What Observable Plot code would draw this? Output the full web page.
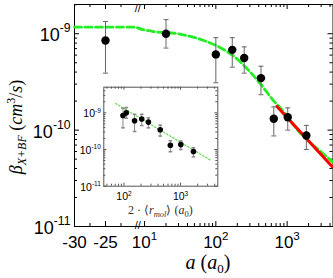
<!DOCTYPE html>
<html><head><meta charset="utf-8">
<script src="https://cdn.jsdelivr.net/npm/d3@7"></script>
<script src="https://cdn.jsdelivr.net/npm/@observablehq/plot@0.6"></script>
<style>
body{margin:0;background:#fff}
#wrap{position:relative;width:333px;height:278px;overflow:hidden}
#main{position:absolute;left:0;top:0}
#inset{position:absolute;left:76px;top:80px}
</style></head><body><div id="wrap"><div id="main"></div><div id="inset"></div></div>
<script>
// ---- main panel data: scattering length a (a0) vs rate coefficient ----
const aVals   = [-25, 20, 100, 170, 250, 430, 650, 1020, 1860];
const beta    = [8.5e-10, 1.0e-9, 6.1e-10, 6.8e-10, 5.6e-10, 3.46e-10, 1.31e-10, 1.36e-10, 8.8e-11];
const betaHi  = [1.34e-9, 1.4e-9, 9.1e-10, 9.1e-10, 7.3e-10, 4.6e-10, 1.74e-10, 1.7e-10, 1.12e-10];
const betaLo  = [3.9e-10, 7.1e-10, 3.1e-10, 4.5e-10, 3.9e-10, 2.33e-10, 8.7e-11, 1.0e-10, 6.3e-11];
// green dashed model curve
const curveA  = [-30, -20, 8, 12.8, 28.7, 67.7, 136, 209, 289, 421, 614, 943, 1303, 3428, 4300];
const curveB  = [1.17e-9, 1.17e-9, 1.15e-9, 1.06e-9, 1.0e-9, 8.5e-10, 6.7e-10, 5.3e-10, 4.16e-10, 3.03e-10, 2.11e-10, 1.48e-10, 1.07e-10, 5.45e-11, 4.7e-11];
// red power-law line
const fitA    = [721, 4270];
const fitB    = [1.76e-10, 4.19e-11];
// ---- inset data: 2<r_mol> (a0) ----
const rMol    = [96, 110, 154, 206, 270, 437, 660, 1010, 1690];
const insetLineR = [71, 3400];
const insetLineB = [1.8e-9, 5.1e-11];
// ---- ticks ----
const xMajor = [-30, -25, 10, 100, 1000];
const xMajorLabels = ["-30", "-25", "10^1", "10^2", "10^3"];
const yMajor = [1e-11, 1e-10, 1e-9];
const yMajorLabels = ["10^-11", "10^-10", "10^-9"];
const insetXMajor = [100, 1000];
const insetXLabels = ["10^2", "10^3"];
const insetYMajor = [1e-11, 1e-10, 1e-9];
const insetYLabels = ["10^-11", "10^-10", "10^-9"];

function minorLog(lo, hi) {
  const out = [];
  for (let e = Math.floor(Math.log10(lo)); e <= Math.ceil(Math.log10(hi)); e++)
    for (let m = 2; m <= 9; m++) { const v = m * Math.pow(10, e); if (v > lo && v < hi) out.push(v); }
  return out;
}
const xMinor = [-27.5, -22.5, ...minorLog(10, 4300)];
const yMinor = minorLog(1e-11, 2.01e-9);
const insetXMinor = minorLog(44, 4550);
const insetYMinor = minorLog(1e-11, 5e-9);

// broken axis: linear part for negative a, log part for positive a
const decadeUnits = 11.5, logOrigin = -30.2, breakAt = -19.8;
const u = a => a < 0 ? a : logOrigin + decadeUnits * Math.log10(a);

const rows = aVals.map((a, i) => ({a, b: beta[i], lo: betaLo[i], hi: betaHi[i], r: rMol[i]}));
const curve = curveA.map((a, i) => ({a, b: curveB[i]}));
const fit = fitA.map((a, i) => ({a, b: fitB[i]}));
const insetLine = insetLineR.map((r, i) => ({r, b: insetLineB[i]}));

const cap = {draw(ctx, size) { const w = Math.sqrt(size / Math.PI); ctx.moveTo(-w, 0); ctx.lineTo(w, 0); }};

const W = 333, H = 278, mL = 74, mR = 0.5, mT = 4, mB = 52;
const iw = W - mL - mR, ih = H - mT - mB;
const sans = "Liberation Sans, Arial, sans-serif";
const serif = "Liberation Serif, Times New Roman, serif";

const main = Plot.plot({
  width: W, height: H, marginLeft: mL, marginRight: mR, marginTop: mT, marginBottom: mB,
  style: {background: "transparent", overflow: "visible"},
  x: {type: "linear", domain: [-30, 11.7], axis: null},
  y: {type: "log", domain: [1e-11, 2.01e-9], axis: null},
  marks: [
    Plot.tickX(xMajor, {x: u, insetTop: ih - 5, stroke: "black"}),
    Plot.tickX(xMajor, {x: u, insetBottom: ih - 5, stroke: "black"}),
    Plot.tickX(xMinor, {x: u, insetTop: ih - 3, stroke: "black"}),
    Plot.tickX(xMinor, {x: u, insetBottom: ih - 3, stroke: "black"}),
    Plot.tickY(yMajor, {y: d => d, insetRight: iw - 5, stroke: "black"}),
    Plot.tickY(yMajor, {y: d => d, insetLeft: iw - 5, stroke: "black"}),
    Plot.tickY(yMinor, {y: d => d, insetRight: iw - 3, stroke: "black"}),
    Plot.tickY(yMinor, {y: d => d, insetLeft: iw - 3, stroke: "black"}),
    Plot.frame({stroke: "black", strokeWidth: 1}),
    Plot.text(["//"], {x: breakAt, frameAnchor: "bottom", dy: 2, text: d => d, fontSize: 11, fontFamily: sans, fill: "black"}),
    Plot.text(["//"], {x: breakAt, frameAnchor: "top", text: d => d, fontSize: 11, fontFamily: sans, fill: "black"}),
    Plot.text(xMajor, {x: u, text: (d, i) => xMajorLabels[i], frameAnchor: "bottom", dy: 21.5, fontSize: 17, fontFamily: sans, fill: "black"}),
    Plot.text(yMajor, {y: d => d, text: (d, i) => yMajorLabels[i], frameAnchor: "left", dx: -4, dy: 2, textAnchor: "end", fontSize: 18, fontFamily: sans, fill: "black"}),
    Plot.line(curve, {x: d => u(d.a), y: "b", stroke: "#22ee22", strokeWidth: 2.8, strokeDasharray: "7,3.5", curve: "monotone-x"}),
    Plot.line(fit, {x: d => u(d.a), y: "b", stroke: "#ff0000", strokeWidth: 3}),
    Plot.ruleX(rows, {x: d => u(d.a), y1: "lo", y2: "hi", stroke: "#666", strokeWidth: 1}),
    Plot.dot(rows, {x: d => u(d.a), y: "hi", symbol: cap, r: 2.5, stroke: "#666", fill: "none", strokeWidth: 1}),
    Plot.dot(rows, {x: d => u(d.a), y: "lo", symbol: cap, r: 2.5, stroke: "#666", fill: "none", strokeWidth: 1}),
    Plot.dot(rows, {x: d => u(d.a), y: "b", r: 4.2, fill: "black", stroke: "none"})
  ]
});

const inset = Plot.plot({
  width: 150, height: 140, marginLeft: 27.3, marginRight: 8.7, marginTop: 6.7, marginBottom: 34.3,
  style: {background: "transparent", overflow: "visible"},
  x: {type: "log", domain: [44, 4550], axis: null},
  y: {type: "log", domain: [1e-11, 5e-9], axis: null},
  marks: [
    Plot.tickX(insetXMajor, {x: d => d, insetTop: 99 - 3, stroke: "#555"}),
    Plot.tickX(insetXMajor, {x: d => d, insetBottom: 99 - 3, stroke: "#555"}),
    Plot.tickX(insetXMinor, {x: d => d, insetTop: 99 - 2, stroke: "#555"}),
    Plot.tickX(insetXMinor, {x: d => d, insetBottom: 99 - 2, stroke: "#555"}),
    Plot.tickY(insetYMajor, {y: d => d, insetRight: 114 - 3, stroke: "#555"}),
    Plot.tickY(insetYMajor, {y: d => d, insetLeft: 114 - 3, stroke: "#555"}),
    Plot.tickY(insetYMinor, {y: d => d, insetRight: 114 - 2, stroke: "#555"}),
    Plot.tickY(insetYMinor, {y: d => d, insetLeft: 114 - 2, stroke: "#555"}),
    Plot.frame({stroke: "#555", strokeWidth: 1}),
    Plot.text(insetXMajor, {x: d => d, text: (d, i) => insetXLabels[i], frameAnchor: "bottom", dy: 14, fontSize: 10.5, fontFamily: sans, fill: "black"}),
    Plot.text(insetYMajor, {y: d => d, text: (d, i) => insetYLabels[i], frameAnchor: "left", dx: -3, dy: 1, textAnchor: "end", fontSize: 10.5, fontFamily: sans, fill: "black"}),
    Plot.line(insetLine, {x: "r", y: "b", stroke: "#66dd55", strokeWidth: 1.3, strokeDasharray: "1.5,2"}),
    Plot.ruleX(rows, {x: "r", y1: "lo", y2: "hi", stroke: "#888", strokeWidth: 1}),
    Plot.dot(rows, {x: "r", y: "hi", symbol: cap, r: 1.8, stroke: "#888", fill: "none"}),
    Plot.dot(rows, {x: "r", y: "lo", symbol: cap, r: 1.8, stroke: "#888", fill: "none"}),
    Plot.dot(rows, {x: "r", y: "b", r: 2.8, fill: "black", stroke: "none"})
  ]
});

// superscripts in tick labels ("10^-9" -> 10 with raised -9)
function supify(svg, ratio, rise) {
  svg.querySelectorAll("text").forEach(t => {
    const s = t.textContent;
    const k = s.indexOf("^");
    if (k < 0) return;
    const fs = parseFloat(t.closest("[font-size]")?.getAttribute("font-size") || 12);
    t.textContent = s.slice(0, k);
    const ts = document.createElementNS("http://www.w3.org/2000/svg", "tspan");
    ts.textContent = s.slice(k + 1);
    ts.setAttribute("font-size", (fs * ratio).toFixed(1));
    ts.setAttribute("dy", (-fs * rise).toFixed(1));
    t.appendChild(ts);
  });
}
supify(main, 0.68, 0.5);
supify(inset, 0.62, 0.45);

function rich(sel, parts) {
  parts.forEach(p => {
    const ts = sel.append("tspan").text(p.t);
    if (p.it) ts.attr("font-style", "italic");
    if (p.fs) ts.attr("font-size", p.fs);
    if (p.dy) ts.attr("dy", p.dy);
  });
}
const ms = d3.select(main);
const yl = ms.append("text").attr("transform", "translate(22,127) rotate(-90)")
  .attr("text-anchor", "middle").attr("font-family", serif).attr("font-size", 18).attr("fill", "black");
rich(yl, [{t: "β", it: 1}, {t: "X+BF", it: 1, fs: 12, dy: 4}, {t: " (", dy: -4}, {t: "cm", it: 1},
          {t: "3", fs: 12, dy: -7}, {t: "/", dy: 7}, {t: "s", it: 1}, {t: ")"}]);
const xl = ms.append("text").attr("x", 208).attr("y", 269)
  .attr("text-anchor", "middle").attr("font-family", serif).attr("font-size", 20).attr("fill", "black");
rich(xl, [{t: "a", it: 1}, {t: " ("}, {t: "a", it: 1}, {t: "0", fs: 13, dy: 4}, {t: ")", dy: -4}]);

const is = d3.select(inset);
const il = is.append("text").attr("x", 84.3).attr("y", 134)
  .attr("text-anchor", "middle").attr("font-family", serif).attr("font-size", 12).attr("fill", "#333");
rich(il, [{t: "2 · ⟨"}, {t: "r", it: 1}, {t: "mol", it: 1, fs: 8.5, dy: 2.5}, {t: "⟩ (", dy: -2.5}, {t: "a", it: 1},
          {t: "0", fs: 8.5, dy: 2.5}, {t: ")", dy: -2.5}]);

document.getElementById("main").appendChild(main);
document.getElementById("inset").appendChild(inset);
</script></body></html>
